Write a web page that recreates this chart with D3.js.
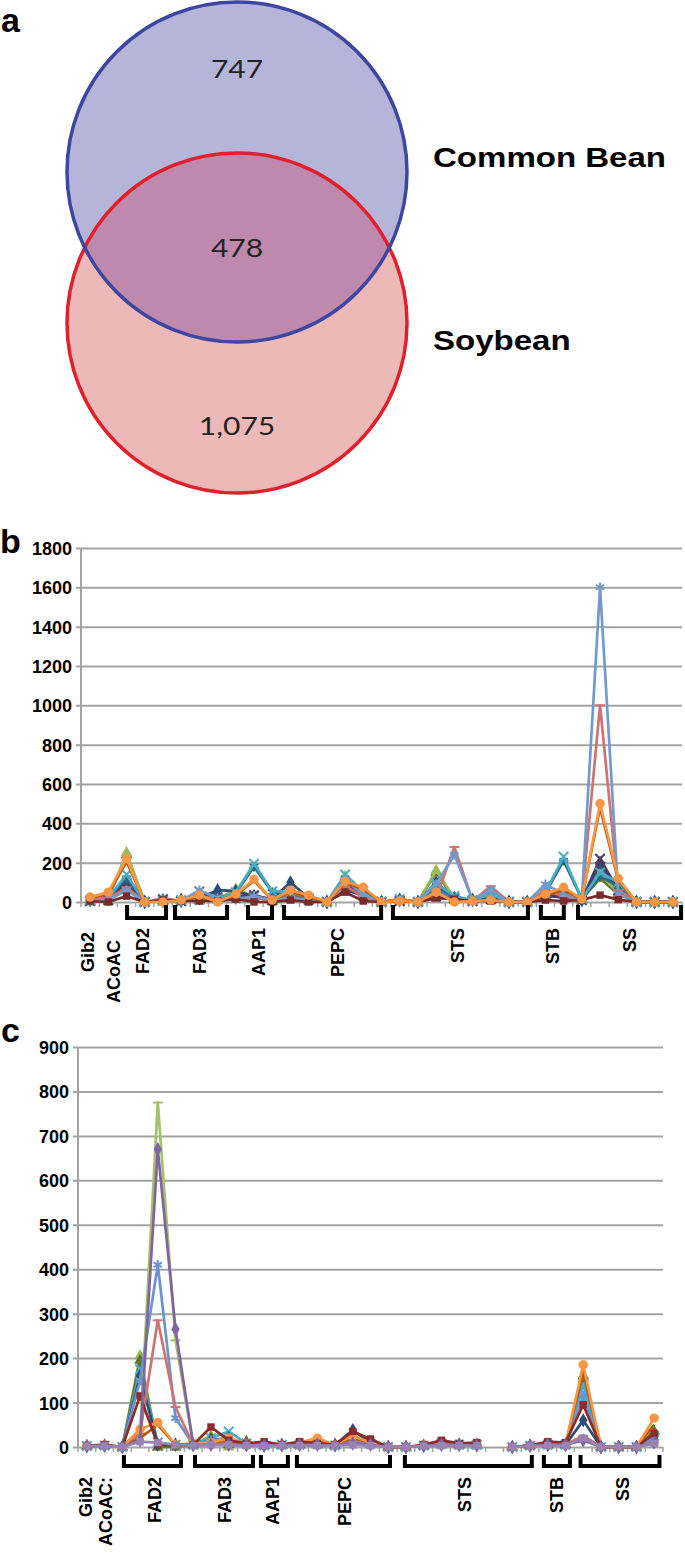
<!DOCTYPE html>
<html lang="en">
<head>
<meta charset="utf-8">
<title>Venn and expression profiles</title>
<script src="https://d3js.org/d3.v7.min.js"></script>
<style>
  html, body { margin: 0; padding: 0; background: #fff; }
  svg { display: block; }
  .tick text { font-family: "Liberation Sans", Arial, sans-serif; font-weight: bold; font-size: 18px; fill: #000; }
</style>
</head>
<body>
<div id="chart"></div>
<script>
// ---- panel a : venn counts ----
var vennSets = ["Common Bean", "Soybean"];
var vennCounts = [747, 478, 1075];   // only bean, shared, only soy

// ---- panels b / c : 33 genes on the x axis ----
var cats = d3.range(1, 34);
var groupNames = ["Gib2", "ACoAC", "FAD2", "FAD3", "AAP1", "PEPC", "STS", "STB", "SS"];

// bracket spans in category units (null = no bracket)
var bracketsB = [null, null, [2.03, 4.17], [4.66, 7.52], [8.67, 9.99], [10.65, 15.98], [16.63, 24.04], [24.75, 26.01], [26.79, 32.45]];
var labelPosB = [-0.12, 1.31, 2.9, 5.99, 9.27, 13.6, 20.2, 25.4, 29.6];
var bracketsC = [null, null, [2.09, 5.31], [6.1, 9.37], [9.82, 11.34], [11.85, 17.1], [17.94, 25.1], [25.78, 27.25], [27.85, 32.3]];
var labelPosC = [-0.05, 1.08, 3.79, 7.79, 10.5, 14.56, 21.33, 26.5, 30.2];
var labelTextC = ["Gib2", "ACoAC:", "FAD2", "FAD3", "AAP1", "PEPC", "STS", "STB", "SS"];

var ticksB = [0, 200, 400, 600, 800, 1000, 1200, 1400, 1600, 1800];
var ticksC = [0, 100, 200, 300, 400, 500, 600, 700, 800, 900];

// panel b series
var bBlue       = [10,15,100,0,10,5,40,20,20,30,10,30,15,0,120,40,0,10,0,60,20,10,20,0,0,50,35,10,180,60,0,0,0];
var bPurple     = [5,10,90,0,15,5,55,20,20,30,10,20,10,0,75,30,0,5,0,25,20,5,15,0,0,40,20,10,170,50,0,0,0];
var bDarkGreen  = [5,20,240,0,5,10,10,15,60,25,5,25,15,0,120,45,0,10,0,150,15,10,25,0,0,25,45,15,120,40,0,0,0];
var bGreen      = [0,15,250,0,5,5,10,10,65,30,5,30,15,0,130,50,0,15,0,160,20,10,30,0,0,30,50,15,140,50,0,0,0];
var bDarkBlue   = [10,15,110,0,5,10,20,60,55,30,15,100,20,0,90,40,0,10,0,100,20,10,20,0,0,40,30,10,200,60,0,0,0];
var bDarkPurple = [5,10,95,0,10,5,15,25,30,35,10,25,15,0,60,35,0,5,0,30,15,5,15,0,0,30,25,10,220,60,0,0,0];
var bDarkTeal   = [10,20,120,0,5,10,10,15,45,180,50,45,20,0,120,50,0,15,0,80,25,10,35,0,0,45,210,15,130,80,0,0,0];
var bTeal       = [10,20,140,0,5,10,10,15,50,195,55,50,20,0,140,55,0,15,0,95,30,10,40,0,0,50,230,15,150,100,0,0,0];
var bLightRed   = [10,15,75,0,20,5,30,15,10,20,10,25,10,0,80,30,0,5,0,20,280,5,80,0,0,60,30,10,1000,60,0,0,0];
var bLightBlue  = [5,10,60,0,10,5,60,20,15,30,10,20,10,0,110,40,0,10,0,90,240,10,60,0,0,90,40,15,1600,40,0,0,0];
var bDarkOrange = [20,40,205,0,5,10,25,5,35,108,10,50,25,0,98,65,0,5,0,40,10,5,10,0,0,35,60,15,480,110,0,0,0];
var bDarkRed    = [5,0,30,0,10,5,5,5,15,0,0,10,0,0,50,5,0,5,0,20,15,5,5,0,0,10,5,10,35,12,0,0,0];
var bOrange     = [25,50,220,0,0,10,35,0,40,115,10,60,35,0,105,75,0,5,0,50,0,5,10,0,0,40,75,15,500,120,0,0,0];

// panel c series (index 23 has no value)
var cGreen       = [2,3,0,205,0,0,5,25,0,10,3,3,5,5,3,15,8,0,0,2,5,5,3,null,0,3,5,5,155,0,0,0,30];
var cDarkGreen   = [2,3,0,195,0,0,5,20,5,12,3,3,5,5,3,15,8,0,0,2,5,5,3,null,0,3,5,5,160,0,0,0,35];
var cTeal        = [2,3,0,175,10,5,5,20,35,8,3,5,5,8,3,20,8,0,0,3,8,5,5,null,0,3,5,5,140,0,0,0,25];
var cDarkBlue    = [2,3,0,160,5,5,5,15,20,5,3,5,5,8,5,38,10,0,0,3,8,5,5,null,0,3,5,5,60,0,0,0,20];
var cLightGreen  = [2,3,0,30,775,240,5,10,5,5,3,3,5,5,3,10,5,0,0,2,5,5,3,null,0,3,5,5,25,0,0,0,5];
var cBlue        = [3,3,0,150,410,65,5,15,20,5,3,5,5,8,5,15,8,0,0,3,8,5,5,null,0,3,8,5,115,0,0,0,20];
var cPink        = [3,3,0,30,285,90,5,10,8,5,3,3,5,5,3,10,5,0,0,2,5,5,3,null,0,3,5,5,25,0,0,0,10];
var cDarkOrange  = [3,4,0,20,50,5,5,10,15,5,5,5,8,15,5,20,10,0,0,3,5,5,5,null,0,3,8,5,170,0,0,0,50];
var cOrange      = [3,5,0,40,55,5,8,10,20,8,5,5,10,20,5,25,10,0,0,5,5,5,5,null,0,3,8,5,185,0,0,0,65];
var cDarkRed     = [3,5,0,115,5,5,5,45,15,8,12,5,12,8,5,35,18,0,0,5,15,8,10,null,0,3,12,10,95,0,0,0,30];
var cPurple      = [2,3,0,15,670,265,5,5,5,5,3,3,5,5,3,8,5,0,0,2,5,5,3,null,0,3,5,5,15,0,0,0,10];
var cLightPurple = [2,2,0,12,10,5,3,5,5,3,3,3,3,3,3,5,3,0,0,2,3,3,3,null,0,2,3,3,20,0,0,0,8];

var seriesB = [
  {v: bBlue, c: "#4f81bd", m: "diamond"},
  {v: bPurple, c: "#8064a2", m: "times"},
  {v: bDarkGreen, c: "#5f7530", m: "triangle"},
  {v: bGreen, c: "#9bbb59", m: "triangle"},
  {v: bDarkBlue, c: "#2c4d75", m: "diamond"},
  {v: bDarkPurple, c: "#4d3b62", m: "times"},
  {v: bDarkTeal, c: "#276a7c", m: "asterisk"},
  {v: bTeal, c: "#4bacc6", m: "times"},
  {v: bLightRed, c: "#cd7371", m: "dash"},
  {v: bLightBlue, c: "#729aca", m: "asterisk"},
  {v: bDarkOrange, c: "#b65708", m: "none"},
  {v: bDarkRed, c: "#772c2a", m: "square"},
  {v: bOrange, c: "#f79646", m: "circle"}
];
var seriesC = [
  {v: cGreen, c: "#9bbb59", m: "triangle"},
  {v: cDarkGreen, c: "#5f7530", m: "triangle"},
  {v: cTeal, c: "#4bacc6", m: "times"},
  {v: cDarkBlue, c: "#2c4d75", m: "diamond"},
  {v: cLightGreen, c: "#a5c26a", m: "dash"},
  {v: cBlue, c: "#6a93d0", m: "asterisk"},
  {v: cPink, c: "#cd7371", m: "dash"},
  {v: cDarkOrange, c: "#b65708", m: "none"},
  {v: cOrange, c: "#f79646", m: "circle"},
  {v: cDarkRed, c: "#8b2c2a", m: "square"},
  {v: cPurple, c: "#8064a2", m: "diamond"},
  {v: cLightPurple, c: "#9983b5", m: "square"}
];

var W = 685, H = 1556;
var svg = d3.select("#chart").append("svg").attr("width", W).attr("height", H);
var boldFont = '"Liberation Sans", Arial, sans-serif';

function panelLetter(t, x, y) {
  svg.append("text").attr("x", x).attr("y", y).text(t)
    .style("font-family", boldFont).style("font-weight", "bold").style("font-size", "34px");
}

// ---------- panel a ----------
panelLetter("a", 1, 32);
var vx = 237, vy = [172, 323], vr = 170;
var defs = svg.append("defs");
defs.append("clipPath").attr("id", "clipBean").append("circle").attr("cx", vx).attr("cy", vy[0]).attr("r", vr);

svg.append("circle").attr("cx", vx).attr("cy", vy[0]).attr("r", vr).attr("fill", "#b5b5d9");
svg.append("circle").attr("cx", vx).attr("cy", vy[1]).attr("r", vr).attr("fill", "#ecb9b8");
svg.append("circle").attr("cx", vx).attr("cy", vy[1]).attr("r", vr).attr("fill", "#be89ad").attr("clip-path", "url(#clipBean)");
svg.append("circle").attr("cx", vx).attr("cy", vy[1]).attr("r", vr).attr("fill", "none").attr("stroke", "#e1202d").attr("stroke-width", 3.5);
svg.append("circle").attr("cx", vx).attr("cy", vy[0]).attr("r", vr).attr("fill", "none").attr("stroke", "#3d47a1").attr("stroke-width", 3.5);

// the venn text in the figure is a little wider than normal
var vennTextY = [78, 257, 435];
vennCounts.forEach(function (n, i) {
  svg.append("text").attr("transform", "translate(" + vx + "," + vennTextY[i] + ") scale(1.2,1)")
    .attr("text-anchor", "middle")
    .style("font-family", "Lato, 'Open Sans', sans-serif").style("font-size", "25px").style("fill", "#222")
    .text(d3.format(",")(n));
});
var setLabelY = [167, 350];
vennSets.forEach(function (s, i) {
  svg.append("text").attr("transform", "translate(433," + setLabelY[i] + ") scale(1.18,1)").text(s)
    .style("font-family", boldFont).style("font-weight", "bold").style("font-size", "28px");
});

// ---------- line panels ----------
function drawPanel(cfg) {
  var x = d3.scaleLinear().domain([-0.5, cats.length - 0.5]).range([cfg.x0, cfg.x1]);
  var y = d3.scaleLinear().domain([0, cfg.max]).range([cfg.yBot, cfg.yTop]);
  var g = svg.append("g");

  // gridlines + y labels
  var ax = g.append("g").attr("transform", "translate(" + cfg.x0 + ",0)")
    .call(d3.axisLeft(y).tickValues(cfg.ticks).tickSize(-(cfg.x1 - cfg.x0)).tickPadding(9).tickFormat(d3.format("d")));
  ax.select(".domain").remove();
  ax.selectAll(".tick line").attr("stroke", "#a3a3a3").attr("stroke-width", 2).attr("x1", -5);
  ax.selectAll(".tick text").attr("dy", "0.36em");

  // y axis line
  g.append("line").attr("x1", cfg.x0).attr("x2", cfg.x0).attr("y1", cfg.yTop).attr("y2", cfg.yBot)
    .attr("stroke", "#a3a3a3").attr("stroke-width", 2);
  // category ticks
  g.selectAll(".ct").data(d3.range(cats.length + 1)).enter().append("line")
    .attr("x1", function (d) { return x(d - 0.5); }).attr("x2", function (d) { return x(d - 0.5); })
    .attr("y1", cfg.yBot).attr("y2", cfg.yBot + 5).attr("stroke", "#a3a3a3").attr("stroke-width", 1.5);

  var line = d3.line().defined(function (d) { return d != null; })
    .x(function (d, i) { return x(i); }).y(function (d) { return y(d); });

  var sym = {
    diamond: d3.symbol().type(d3.symbolDiamond).size(60),
    square: d3.symbol().type(d3.symbolSquare).size(55),
    triangle: d3.symbol().type(d3.symbolTriangle).size(60),
    circle: d3.symbol().type(d3.symbolCircle).size(70),
    times: d3.symbol().type(d3.symbolTimes).size(60),
    asterisk: d3.symbol().type(d3.symbolAsterisk).size(65)
  };
  var stroked = {times: true, asterisk: true, dash: true};

  cfg.series.forEach(function (s) {
    g.append("path").attr("d", line(s.v)).attr("fill", "none").attr("stroke", s.c)
      .attr("stroke-width", 2.7).attr("stroke-linejoin", "round");
    if (s.m === "none") return;
    var pts = s.v.map(function (d, i) { return {i: i, d: d}; }).filter(function (p) { return p.d != null; });
    var mk = g.selectAll(null).data(pts).enter().append("path")
      .attr("transform", function (p) { return "translate(" + x(p.i) + "," + y(p.d) + ")"; })
      .attr("d", s.m === "dash" ? "M-5,0H5" : sym[s.m]());
    if (stroked[s.m]) mk.attr("fill", "none").attr("stroke", s.c).attr("stroke-width", 2);
    else mk.attr("fill", s.c);
  });

  // brackets
  cfg.brackets.forEach(function (b) {
    if (!b) return;
    g.append("path")
      .attr("d", "M" + x(b[0]) + "," + cfg.bTop + "V" + cfg.bBar + "H" + x(b[1]) + "V" + cfg.bTop)
      .attr("fill", "none").attr("stroke", "#000").attr("stroke-width", 4);
  });
  // group labels
  cfg.labels.forEach(function (t, i) {
    g.append("text")
      .attr("transform", "translate(" + x(cfg.labelPos[i]) + "," + (cfg.labelTop + cfg.labelDy[i]) + ") rotate(-90)")
      .attr("text-anchor", "end").attr("dy", "0.36em").text(t)
      .style("font-family", boldFont).style("font-weight", "bold").style("font-size", "18px");
  });
}

panelLetter("b", 0, 553);
drawPanel({
  x0: 81, x1: 682, yTop: 548, yBot: 902, max: 1800, ticks: ticksB, series: seriesB,
  brackets: bracketsB, bTop: 905, bBar: 918,
  labels: groupNames, labelPos: labelPosB, labelTop: 928, labelDy: [4, 12, 0, 0, 0, 0, 0, 0, 0]
});

panelLetter("c", 1, 1042);
drawPanel({
  x0: 78, x1: 663, yTop: 1047, yBot: 1447, max: 900, ticks: ticksC, series: seriesC,
  brackets: bracketsC, bTop: 1455, bBar: 1466,
  labels: labelTextC, labelPos: labelPosC, labelTop: 1477, labelDy: [0, 0, 0, 0, 0, 0, 0, 0, 0]
});
</script>
</body>
</html>
